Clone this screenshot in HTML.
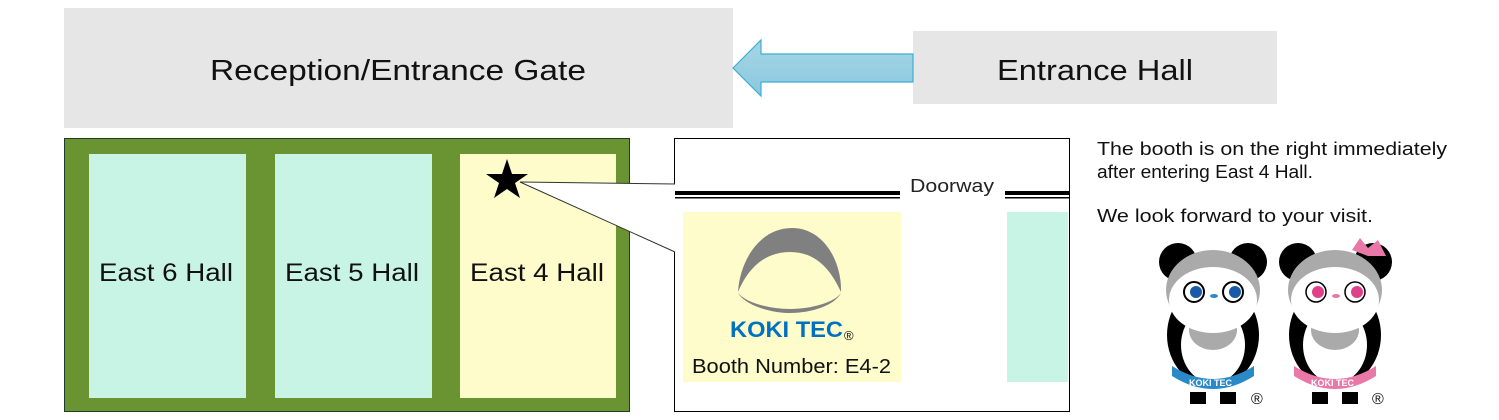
<!DOCTYPE html>
<html><head><meta charset="utf-8"><style>
html,body{margin:0;padding:0;background:#fff;}
svg{display:block;}
text{font-family:"Liberation Sans","Noto Sans CJK JP",sans-serif;}
</style></head><body>
<svg width="1499" height="420" viewBox="0 0 1499 420" xmlns="http://www.w3.org/2000/svg">
<defs>
<linearGradient id="ag" x1="0" y1="0" x2="0" y2="1"><stop offset="0" stop-color="#a6d6e6"/><stop offset="1" stop-color="#8ac8de"/></linearGradient>
</defs>
<rect x="64" y="8" width="669" height="120" fill="#e6e6e6"/>
<text x="210" y="80" font-size="29" textLength="376" lengthAdjust="spacingAndGlyphs" fill="#111">Reception/Entrance Gate</text>
<rect x="913" y="31" width="364" height="73" fill="#e6e6e6"/>
<text x="997" y="80" font-size="29" textLength="196" lengthAdjust="spacingAndGlyphs" fill="#111">Entrance Hall</text>
<polygon points="733,68 761,40 761,54 913,54 913,82 761,82 761,96" fill="url(#ag)" stroke="#3bb0d4" stroke-width="1.2"/>

<rect x="64.5" y="138.5" width="565" height="273" fill="#6a9331" stroke="#1f3a2a"/>
<rect x="89" y="154" width="157" height="244" fill="#c8f4e6"/>
<rect x="275" y="154" width="157" height="244" fill="#c8f4e6"/>
<rect x="460" y="154" width="156" height="244" fill="#fdfcca"/>
<text x="99" y="281" font-size="25" textLength="134" lengthAdjust="spacingAndGlyphs" fill="#111">East 6 Hall</text>
<text x="285" y="281" font-size="25" textLength="134" lengthAdjust="spacingAndGlyphs" fill="#111">East 5 Hall</text>
<text x="470" y="281" font-size="25" textLength="134" lengthAdjust="spacingAndGlyphs" fill="#111">East 4 Hall</text>

<rect x="674.5" y="138.5" width="395" height="273" fill="#fff" stroke="#000"/>
<polygon points="520,182 675,184 675,252" fill="#fff"/>
<line x1="520" y1="182" x2="675" y2="184" stroke="#333" stroke-width="1"/>
<line x1="520" y1="182" x2="675" y2="252" stroke="#333" stroke-width="1"/>
<polygon points="507,159 512,174 528,174 515,183 520,198 507,189 494,198 499,183 486,174 502,174" fill="#000"/>
<rect x="675" y="191" width="225" height="4" fill="#000"/>
<rect x="675" y="197" width="225" height="1.5" fill="#000"/>
<rect x="1005" y="191" width="64" height="4" fill="#000"/>
<rect x="1005" y="197" width="64" height="1.5" fill="#000"/>
<text x="910" y="192" font-size="18" textLength="84" lengthAdjust="spacingAndGlyphs" fill="#222">Doorway</text>
<rect x="683" y="212" width="218" height="170" fill="#fdfcca"/>
<rect x="1007" y="212" width="61" height="170" fill="#c8f4e6"/>
<path d="M738,292 C740,260 760,228 792,228 C824,228 842,262 841,292 C830,268 815,252 790,252 C765,252 748,268 738,292 Z" fill="#808080"/>
<path d="M738,293 C745,305 770,313 790,313 C812,313 835,305 841,293 C835,302 812,309 790,309 C768,309 745,302 738,293 Z" fill="#808080"/>
<text x="730" y="337" font-size="22" font-weight="bold" textLength="113" lengthAdjust="spacingAndGlyphs" fill="#0070c0">KOKI TEC</text>
<text x="844" y="340" font-size="13" fill="#111">®</text>
<text x="692" y="373" font-size="20" textLength="199" lengthAdjust="spacingAndGlyphs" fill="#111">Booth Number: E4-2</text>

<text x="1097" y="155" font-size="18" textLength="350" lengthAdjust="spacingAndGlyphs" fill="#111">The booth is on the right immediately</text>
<text x="1097" y="178" font-size="18" textLength="216" lengthAdjust="spacingAndGlyphs" fill="#111">after entering East 4 Hall.</text>
<text x="1097" y="222" font-size="18" textLength="276" lengthAdjust="spacingAndGlyphs" fill="#111">We look forward to your visit.</text>

<!-- panda 1 -->
<g>
<circle cx="1178" cy="262" r="19" fill="#000"/><circle cx="1248" cy="262" r="19" fill="#000"/>
<ellipse cx="1213" cy="335" rx="46" ry="52" fill="#000"/>
<ellipse cx="1213" cy="345" rx="32" ry="38" fill="#fff"/>
<ellipse cx="1213" cy="330" rx="24" ry="20" fill="#aaa"/>
<path d="M1172,366 Q1213,392 1254,366 L1254,376 Q1213,402 1172,376Z" fill="#2a8ac8"/>
<text x="1189" y="386" font-size="9" font-weight="bold" fill="#fff">KOKI TEC</text>
<ellipse cx="1213" cy="290" rx="47" ry="40" fill="#aaa"/>
<ellipse cx="1213" cy="300" rx="44" ry="33" fill="#fff"/>
<circle cx="1194" cy="292" r="10" fill="#fff" stroke="#000" stroke-width="2"/><circle cx="1196" cy="292" r="6" fill="#1a5aa8"/>
<circle cx="1233" cy="292" r="10" fill="#fff" stroke="#000" stroke-width="2"/><circle cx="1235" cy="292" r="6" fill="#1a5aa8"/>
<ellipse cx="1214" cy="296" rx="4" ry="2" fill="#2a8ac8"/>
<rect x="1190" y="392" width="16" height="12" fill="#000"/><rect x="1220" y="392" width="16" height="12" fill="#000"/>
<text x="1251" y="404" font-size="16" fill="#111">®</text>
</g>
<!-- panda 2 -->
<g>
<circle cx="1298" cy="262" r="19" fill="#000"/><circle cx="1373" cy="262" r="19" fill="#000"/>
<ellipse cx="1335" cy="335" rx="46" ry="52" fill="#000"/>
<ellipse cx="1335" cy="345" rx="32" ry="38" fill="#fff"/>
<ellipse cx="1335" cy="330" rx="24" ry="20" fill="#aaa"/>
<path d="M1294,366 Q1335,392 1376,366 L1376,376 Q1335,402 1294,376Z" fill="#e878a8"/>
<text x="1311" y="386" font-size="9" font-weight="bold" fill="#fff">KOKI TEC</text>
<ellipse cx="1335" cy="290" rx="47" ry="40" fill="#aaa"/>
<ellipse cx="1335" cy="300" rx="44" ry="33" fill="#fff"/>
<polygon points="1352,250 1360,238 1368,248 1378,240 1386,256 1368,256" fill="#e878a8"/>
<circle cx="1316" cy="292" r="10" fill="#fff" stroke="#000" stroke-width="1.5"/><circle cx="1318" cy="292" r="6" fill="#e0408a"/>
<circle cx="1355" cy="292" r="10" fill="#fff" stroke="#000" stroke-width="1.5"/><circle cx="1357" cy="292" r="6" fill="#e0408a"/>
<ellipse cx="1336" cy="296" rx="4" ry="2" fill="#e878a8"/>
<rect x="1312" y="392" width="16" height="12" fill="#000"/><rect x="1342" y="392" width="16" height="12" fill="#000"/>
<text x="1372" y="404" font-size="16" fill="#111">®</text>
</g>
</svg>
</body></html>
